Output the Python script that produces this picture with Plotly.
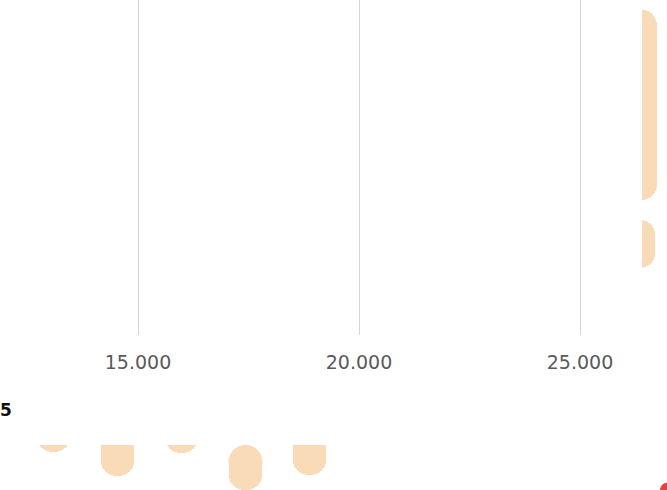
import plotly.graph_objects as go

# === Datos
# barras horizontales (parte superior): inicio y fin en el eje x
top_rows = [0, 1]
top_start = [26400, 26400]
top_end = [26740, 26700]

# barras verticales (parte inferior, recortadas por arriba en y = 20)
bottom_cols = [0, 1, 2, 3, 4]
bottom_start = [0, 0, 0, 37, 0]
bottom_end = [27, 51, 28, 65, 50]
pill_col = [3]       # la cuarta barra se ve completa, con ambas puntas redondeadas
pill_top = [37]

# pequeño punto rojo en la esquina inferior derecha
corner_x = [9.6]
corner_y = [65.5]

x_ticks = [15000, 20000, 25000]

peach = "#fadbb8"
hidden = "rgba(0,0,0,0)"
font_family = "DejaVu Sans"

fig = go.Figure()

# === Barras superiores (segmento oculto + segmento visible)
bar_heights = [1.367, 0.345]
fig.add_trace(go.Bar(
    y=top_rows, x=top_start, orientation="h", width=bar_heights,
    marker=dict(color=hidden, cornerradius=15, line=dict(width=0)),
    xaxis="x", yaxis="y", showlegend=False, hoverinfo="skip",
))
fig.add_trace(go.Bar(
    y=top_rows, x=[e - s for s, e in zip(top_start, top_end)], orientation="h",
    width=bar_heights,
    marker=dict(color=peach, cornerradius=15, line=dict(width=0)),
    xaxis="x", yaxis="y", showlegend=False, hoverinfo="skip",
))

# === Barras inferiores
fig.add_trace(go.Bar(
    x=bottom_cols, y=bottom_start, width=0.53,
    marker=dict(color=hidden, cornerradius="50%", line=dict(width=0)),
    xaxis="x2", yaxis="y2", showlegend=False, hoverinfo="skip",
))
fig.add_trace(go.Bar(
    x=bottom_cols, y=[e - s for s, e in zip(bottom_start, bottom_end)], width=0.53,
    marker=dict(color=peach, cornerradius="50%", line=dict(width=0)),
    xaxis="x2", yaxis="y2", showlegend=False, hoverinfo="skip",
))
# punta superior redondeada de la cuarta barra
fig.add_trace(go.Scatter(
    x=pill_col, y=pill_top, mode="markers",
    marker=dict(color=peach, size=34, line=dict(width=0)),
    xaxis="x2", yaxis="y2", showlegend=False, hoverinfo="skip",
))

fig.add_trace(go.Scatter(
    x=corner_x, y=corner_y, mode="markers",
    marker=dict(color="#e8413c", size=16, line=dict(width=0)),
    cliponaxis=True, xaxis="x2", yaxis="y2", showlegend=False, hoverinfo="skip",
))

fig.update_layout(
    width=667, height=490,
    margin=dict(l=0, r=0, t=0, b=0),
    paper_bgcolor="white", plot_bgcolor="white",
    barmode="stack",
    separators=",.",
    font=dict(family=font_family, color="#555555"),
    xaxis=dict(
        domain=[0, 1], range=[11878, 26968],
        tickvals=x_ticks, tickformat=",d",
        showgrid=True, gridcolor="#d6d6d6", gridwidth=1,
        zeroline=False, showline=False, ticks="",
        ticklabelstandoff=14,
        tickfont=dict(size=19, color="#5a5a5a", family=font_family),
        anchor="y",
    ),
    yaxis=dict(
        domain=[1 - 335 / 490, 1], range=[1.655, -0.755],
        showgrid=False, zeroline=False, showticklabels=False, showline=False,
        anchor="x",
    ),
    xaxis2=dict(
        domain=[0, 1], range=[-0.836, 9.586],
        showgrid=False, zeroline=False, showticklabels=False, showline=False,
        anchor="y2",
    ),
    yaxis2=dict(
        domain=[0, 45 / 490], range=[65, 20],
        showgrid=False, zeroline=False, showticklabels=False, showline=False,
        anchor="x2",
    ),
    annotations=[dict(
        text="<b>5</b>", x=-0.003, y=1 - 410 / 490, xref="paper", yref="paper",
        xanchor="left", yanchor="middle", showarrow=False,
        font=dict(size=17, color="#111111", family=font_family),
    )],
)

fig.write_html("out.html", config={"displayModeBar": False},
               post_script="document.body.style.margin='0';")
